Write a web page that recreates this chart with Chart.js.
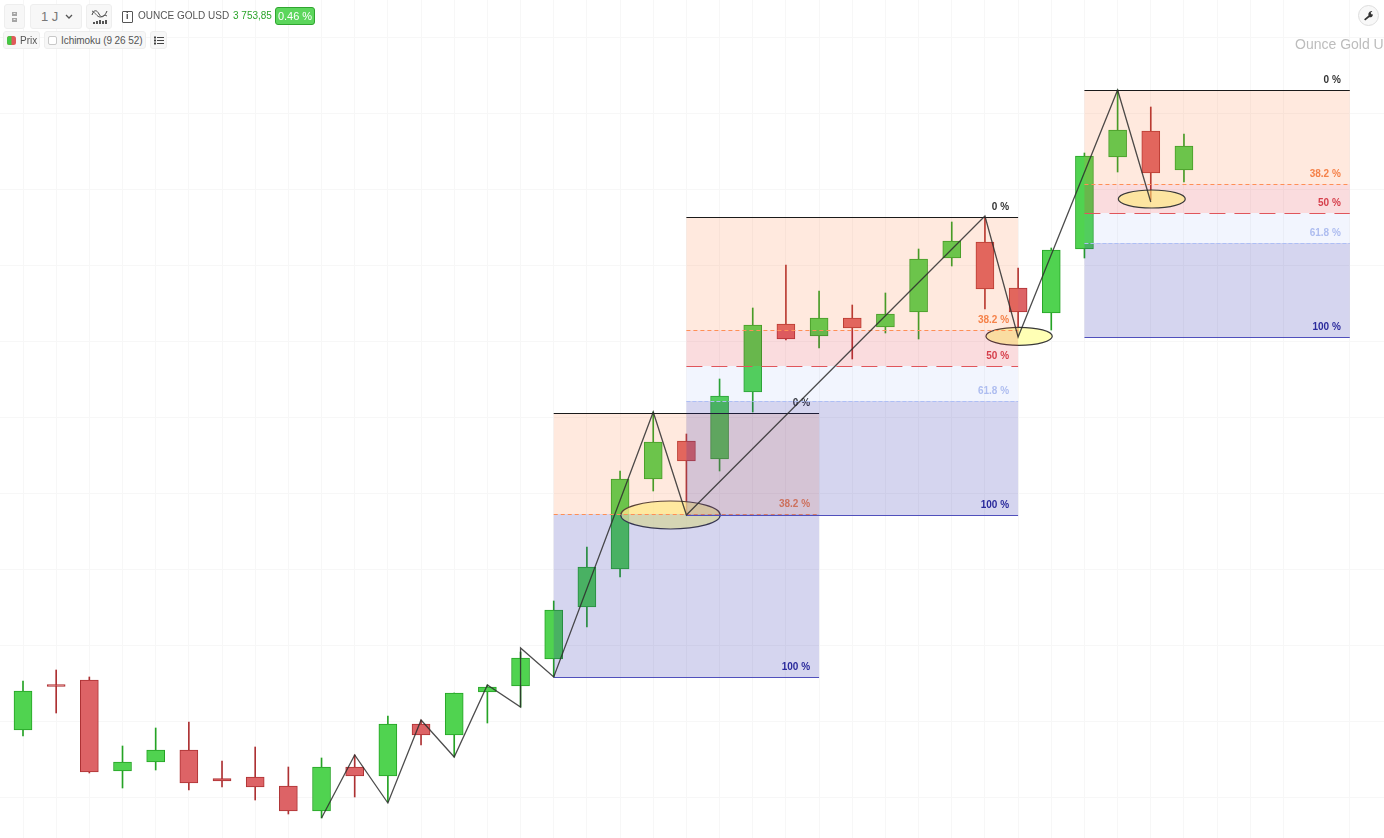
<!DOCTYPE html>
<html>
<head>
<meta charset="utf-8">
<title>Ounce Gold USD</title>
<script src="https://cdn.jsdelivr.net/npm/chart.js@4"></script>
<style>
html,body{margin:0;padding:0;width:1384px;height:838px;overflow:hidden;background:#fff;font-family:"Liberation Sans",Arial,sans-serif}
#wrap{position:relative;width:1384px;height:838px;overflow:hidden}
canvas{position:absolute;left:0;top:0}
.el{position:absolute;box-sizing:border-box;white-space:nowrap}
.btn{background:#f7f7f7;border:1px solid #eeeeee;border-radius:3px}
.txt{line-height:1}
</style>
</head>
<body>
<div id="wrap">
<canvas id="c" width="1384" height="838"></canvas>

<div class="el btn" style="left:4px;top:4px;width:21px;height:25px"></div>
<svg class="el" style="left:11px;top:11px" width="8" height="12" viewBox="0 0 8 12"><rect x="1" y="1" width="5" height="4" fill="#a5a5a5"/><rect x="1" y="7" width="5" height="4" fill="#a5a5a5"/><rect x="2.5" y="2" width="2" height="1" fill="#eee"/><rect x="2.5" y="8" width="2" height="1" fill="#eee"/></svg>
<div class="el btn" style="left:30px;top:4px;width:52px;height:25px"></div>
<div class="el txt" style="left:41px;top:10px;font-size:13px;color:#777">1 J</div>
<svg class="el" style="left:65px;top:14px" width="8" height="6" viewBox="0 0 8 6"><path d="M1 1 L4 4 L7 1" fill="none" stroke="#555" stroke-width="1.3"/></svg>
<div class="el btn" style="left:86px;top:4px;width:26px;height:25px"></div>
<svg class="el" style="left:91px;top:8px" width="17" height="17" viewBox="0 0 17 17"><path d="M1 7 C3 1,6 2,8 6 S13 10,16 3" fill="none" stroke="#444" stroke-width="1"/><path d="M1 3 C4 4,6 9,9 9 S13 6,16 8" fill="none" stroke="#555" stroke-width="1"/><rect x="2" y="14" width="2" height="2" fill="#555"/><rect x="5" y="13" width="2" height="3" fill="#555"/><rect x="8" y="12" width="2" height="4" fill="#555"/><rect x="11" y="13" width="2" height="3" fill="#555"/><rect x="14" y="12" width="2" height="4" fill="#555"/></svg>
<div class="el" style="left:122px;top:11px;width:11px;height:12px;border:1px solid #555;border-radius:1px"></div>
<div class="el txt" style="left:126px;top:12px;font-size:9px;font-weight:bold;color:#444">i</div>
<div class="el txt" style="left:138px;top:11px;font-size:10px;color:#555">OUNCE GOLD USD</div>
<div class="el txt" style="left:233px;top:11px;font-size:10px;color:#2ba52b">3 753,85</div>
<div class="el" style="left:275px;top:7px;width:40px;height:18px;background:#5cd65c;border:1px solid #2fa52f;border-radius:3px;color:#fff;font-size:11px;line-height:16px;text-align:center">0.46 %</div>

<div class="el btn" style="left:3px;top:31px;width:37px;height:18px"></div>
<svg class="el" style="left:7px;top:36px" width="9" height="9" viewBox="0 0 9 9"><rect width="9" height="9" rx="2.5" fill="#e05a5a"/><path d="M2.5 0 H4.5 V9 H2.5 A2.5 2.5 0 0 1 0 6.5 V2.5 A2.5 2.5 0 0 1 2.5 0Z" fill="#44c844"/></svg>
<div class="el txt" style="left:20px;top:36px;font-size:10px;color:#555">Prix</div>
<div class="el btn" style="left:44px;top:31px;width:102px;height:18px"></div>
<div class="el" style="left:48px;top:36px;width:9px;height:9px;background:#fff;border:1px solid #c8c8c8;border-radius:2px"></div>
<div class="el txt" style="left:61px;top:36px;font-size:10px;letter-spacing:-0.07px;color:#555">Ichimoku (9 26 52)</div>
<div class="el btn" style="left:150px;top:31px;width:17px;height:18px"></div>
<svg class="el" style="left:154px;top:36px" width="10" height="9" viewBox="0 0 10 9"><g fill="#444"><rect x="0" y="0.5" width="2" height="2"/><rect x="0" y="3.5" width="2" height="2"/><rect x="0" y="6.5" width="2" height="2"/><rect x="3" y="1" width="7" height="1"/><rect x="3" y="4" width="7" height="1"/><rect x="3" y="7" width="7" height="1"/></g></svg>

<div class="el" style="left:1358px;top:5px;width:21px;height:21px;border:1px solid #dddddd;border-radius:50%;background:#f8f8f8"></div>
<svg class="el" style="left:1363px;top:10px" width="11" height="11" viewBox="0 0 10 10"><path d="M1 8.5 L5 5 C4.5 3,5.8 .9,8.5 1 L7 2.6 L7.6 3.9 L9 4 C9 6,7 7,5.7 6.5 L2 9.6 Z" fill="#333"/></svg>
<div class="el txt" style="left:1295px;top:37px;font-size:14px;color:#bdbdbd">Ounce Gold USD</div>
</div>

<script>
// Daily candles, oldest first (USD per ounce)
const opens  = [3369.74,3399.67,3402.63,3342.76,3348.68,3356.58,3337.83,3338.82,3332.89,3316.45,3345.39,3339.47,3373.68,3366.45,3394.74,3398.68,3416.45,3450.66,3475.66,3534.87,3559.87,3548.03,3592.11,3636.84,3628.95,3640.79,3634.87,3644.74,3680.26,3690.79,3660.53,3644.08,3686.18,3746.71,3763.82,3738.16];
const closes = [3395.39,3398.36,3342.11,3348.68,3356.58,3334.87,3336.18,3332.24,3316.45,3345.39,3339.47,3373.68,3366.45,3394.08,3398.03,3417.11,3448.68,3476.97,3534.87,3559.21,3546.71,3589.47,3636.18,3626.97,3640.79,3634.21,3643.42,3679.61,3691.45,3659.87,3644.74,3685.53,3747.37,3764.47,3736.18,3753.85];
const highs  = [3401.97,3409.21,3404.61,3359.21,3371.05,3375.00,3349.34,3358.55,3345.39,3351.32,3353.29,3378.95,3376.32,3394.08,3399.34,3421.05,3454.61,3490.13,3540.13,3578.95,3564.47,3600.66,3647.37,3675.66,3658.55,3649.34,3657.24,3686.18,3703.95,3707.24,3673.68,3686.84,3749.34,3790.79,3779.61,3761.84];
const lows   = [3365.79,3380.92,3341.45,3331.58,3343.42,3330.26,3332.24,3323.68,3314.47,3311.84,3325.66,3322.37,3359.87,3351.97,3374.34,3384.87,3404.61,3437.50,3470.39,3526.97,3511.18,3540.13,3578.95,3626.32,3621.05,3613.82,3630.92,3626.97,3675.00,3646.71,3628.29,3632.89,3680.26,3736.84,3718.42,3730.26];

// Zigzag swing points
const swingIdx = [9,10,11,12,13,14,15,15,16,19,20,29,30,33,34];
const swingVal = [3311.84,3353.29,3321.71,3376.32,3351.97,3399.34,3384.87,3423.68,3404.61,3578.95,3511.18,3707.89,3628.29,3790.79,3717.11];

// Fibonacci retracement boxes
const fibStart = [16,20,32];
const fibEnd   = [24,30,40];
const fibHigh  = [3578.09,3707.24,3790.79];
const fibLow   = [3404.61,3511.18,3627.89];
const fibLevels = [[0,0.382,1],[0,0.382,0.5,0.618,1],[0,0.382,0.5,0.618,1]];
const fibLabels = [['0 %','38.2 %','100 %'],['0 %','38.2 %','50 %','61.8 %','100 %'],['0 %','38.2 %','50 %','61.8 %','100 %']];

// Highlight ellipses
const ellX  = [19.52,30.03,34.03];
const ellY  = [3511.18,3628.75,3719.08];
const ellRx = [1.5,1.0,1.01];
const ellRy = [9.21,5.92,5.92];
const ellAbove = [false,false,true];

// Grid
const gridX = [0,1,2,3,4,5,6,7,8,9,10,11,12,13,14,15,16,17,18,19,20,21,22,23,24,25,26,27,28,29,30,31,32,33,34,35,36,37,38,40];
const gridY = [3825,3775,3725,3675,3625,3575,3525,3475,3425,3375,3325];

const xMin=-0.6934, xMax=41.031, yMin=3298.68, yMax=3850;

const up = opens.map((o,i)=>closes[i]>=o);
const GREEN_FILL='#50d350', GREEN_LINE='#25a325', RED_FILL='#dd6366', RED_LINE='#ad3133';
const levelLine = {
  0:{c:'#1a1a1a',d:[]},
  0.382:{c:'#ff8f55',d:[4,3]},
  0.5:{c:'#e0555b',d:[16,9]},
  0.618:{c:'#aebff5',d:[4,2]},
  1:{c:'#5050bc',d:[]}
};
const levelText = {0:'#333333',0.382:'#f5824a',0.5:'#d6404c',0.618:'#aebdf0',1:'#2a2a9c'};
// zone painted below each level, down to the next one
const zoneFill = {0:'rgba(255,120,50,0.16)',0.382:'rgba(225,50,60,0.17)',0.5:'rgba(110,140,240,0.09)',0.618:'rgba(45,45,175,0.20)'};
const zoneFillA = {0:'rgba(255,120,50,0.16)',0.382:'rgba(45,45,175,0.20)'};

function drawEllipse(ctx,X,Y,i,fill){
  const cx=ellX[i], px=X.getPixelForValue(cx), py=Y.getPixelForValue(ellY[i]);
  const rx=X.getPixelForValue(cx+ellRx[i])-px, ry=py-Y.getPixelForValue(ellY[i]+ellRy[i]);
  ctx.beginPath(); ctx.ellipse(px,py,rx,ry,0,0,Math.PI*2);
  ctx.fillStyle=fill; ctx.fill();
  ctx.lineWidth=1.2; ctx.strokeStyle='#3a3a3a'; ctx.stroke();
}

const overlay = {
  id:'overlay',
  beforeDatasetDraw(chart,args){
    if(args.index!==2) return;
    const ctx=chart.ctx, X=chart.scales.x, Y=chart.scales.y;
    ctx.save();
    ellX.forEach((_,i)=>{ if(!ellAbove[i]) drawEllipse(ctx,X,Y,i,'rgba(255,255,160,0.78)'); });
    fibStart.forEach((s,b)=>{
      const left=X.getPixelForValue(s), right=X.getPixelForValue(fibEnd[b]);
      const lv=fibLevels[b], range=fibHigh[b]-fibLow[b];
      const ys=lv.map(r=>Math.floor(Y.getPixelForValue(fibHigh[b]-r*range)+0.1));
      const fills=b===0?zoneFillA:zoneFill;
      for(let k=0;k<lv.length-1;k++){
        ctx.fillStyle=fills[lv[k]];
        ctx.fillRect(left,ys[k],right-left,ys[k+1]-ys[k]);
      }
      lv.forEach((r,k)=>{
        ctx.beginPath(); ctx.setLineDash(levelLine[r].d);
        ctx.moveTo(left,ys[k]+0.5); ctx.lineTo(right,ys[k]+0.5);
        ctx.lineWidth=1; ctx.strokeStyle=levelLine[r].c; ctx.stroke();
      });
      ctx.setLineDash([]);
      ctx.font='bold 10px "Liberation Sans",Arial,sans-serif';
      ctx.textAlign='right'; ctx.textBaseline='alphabetic';
      lv.forEach((r,k)=>{
        ctx.fillStyle=levelText[r];
        ctx.fillText(fibLabels[b][k],right-9,ys[k]-7);
      });
    });
    ellX.forEach((_,i)=>{ if(ellAbove[i]) drawEllipse(ctx,X,Y,i,'rgba(255,235,120,0.6)'); });
    ctx.restore();
  }
};

const pts=(a,b)=>a.map((v,i)=>({x:i,y:[v,b[i]]}));
new Chart(document.getElementById('c'),{
  type:'bar',
  data:{datasets:[
    {label:'Mèche',data:pts(lows,highs),order:3,grouped:false,barThickness:1,
     backgroundColor:up.map(u=>u?GREEN_LINE:RED_LINE),borderWidth:0},
    {label:'Prix',data:pts(opens,closes),order:2,grouped:false,barThickness:18,
     backgroundColor:up.map(u=>u?GREEN_FILL:RED_FILL),
     borderColor:up.map(u=>u?GREEN_LINE:RED_LINE),borderWidth:1,borderSkipped:false},
    {type:'line',label:'Zigzag',data:swingIdx.map((x,i)=>({x,y:swingVal[i]})),order:1,
     borderColor:'rgba(45,45,45,0.85)',borderWidth:1.3,pointRadius:0,tension:0,fill:false}
  ]},
  options:{
    responsive:false,animation:false,events:[],
    layout:{padding:0},
    plugins:{legend:{display:false},tooltip:{enabled:false}},
    scales:{
      x:{type:'linear',offset:false,min:xMin,max:xMax,
         grid:{offset:false,color:'#f7f7f7',lineWidth:1,drawTicks:false},
         border:{display:false},ticks:{display:false},
         afterBuildTicks(s){s.ticks=gridX.map(value=>({value}));}},
      y:{type:'linear',min:yMin,max:yMax,
         grid:{color:'#f7f7f7',lineWidth:1,drawTicks:false},
         border:{display:false},ticks:{display:false},
         afterBuildTicks(s){s.ticks=gridY.map(value=>({value}));}}
    }
  },
  plugins:[overlay]
});
</script>
</body>
</html>
